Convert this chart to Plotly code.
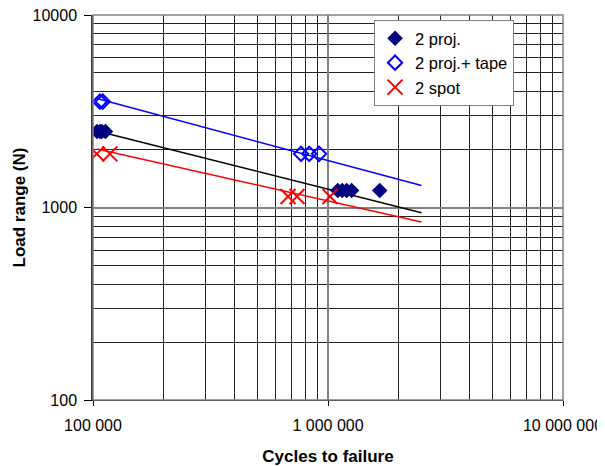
import plotly.graph_objects as go

# ---- data ----
proj_cycles = [104000, 107000, 109000, 113000, 1100000, 1150000, 1200000, 1260000, 1660000]
proj_load = [2480, 2480, 2480, 2480, 1225, 1225, 1225, 1225, 1225]

tape_cycles = [107000, 110000, 768000, 832000, 916000]
tape_load = [3550, 3550, 1900, 1900, 1900]

spot_cycles = [103700, 118000, 676000, 738000, 1020000]
spot_load = [1900, 1900, 1140, 1140, 1140]

# trend lines (power fits) endpoints
trend_x = [104000, 2500000]
trend_tape = [3680, 1300]
trend_proj = [2495, 940]
trend_spot = [2014, 840]

x_tickvals = [1e5, 1e6, 1e7]
x_ticktext = ["100 000", "1 000 000", "10 000 000"]
y_tickvals = [100, 1000, 10000]
y_ticktext = ["100", "1000", "10000"]

FONT = "Liberation Sans, Arial, sans-serif"

fig = go.Figure()

fig.add_trace(go.Scatter(x=trend_x, y=trend_tape, mode="lines",
                         line=dict(color="#0000FF", width=1.5), showlegend=False, hoverinfo="skip"))
fig.add_trace(go.Scatter(x=trend_x, y=trend_proj, mode="lines",
                         line=dict(color="#000000", width=1.5), showlegend=False, hoverinfo="skip"))
fig.add_trace(go.Scatter(x=trend_x, y=trend_spot, mode="lines",
                         line=dict(color="#FF0000", width=1.5), showlegend=False, hoverinfo="skip"))

fig.add_trace(go.Scatter(x=proj_cycles, y=proj_load, mode="markers", name="2 proj.",
                         marker=dict(symbol="diamond", size=12, color="#000080",
                                     line=dict(width=0))))
fig.add_trace(go.Scatter(x=tape_cycles, y=tape_load, mode="markers", name="2 proj.+ tape",
                         marker=dict(symbol="diamond-open", size=11, color="#0000FF",
                                     line=dict(width=2, color="#0000FF"))))
fig.add_trace(go.Scatter(x=spot_cycles, y=spot_load, mode="markers", name="2 spot",
                         marker=dict(symbol="x-thin-open", size=15, color="#FF0000",
                                     line=dict(width=2, color="#FF0000"))))

x_minor = [m * 10 ** e for e in (5, 6) for m in range(2, 10)]
y_minor = [m * 10 ** e for e in (2, 3) for m in range(2, 10)]

fig.update_xaxes(
    type="log", range=[5, 7], automargin=False,
    tickvals=x_tickvals, ticktext=x_ticktext,
    ticks="outside", ticklen=5, tickcolor="#000", tickwidth=1,
    ticklabelstandoff=6, ticklabeloverflow="allow",
    showgrid=True, gridcolor="#808080", gridwidth=1.5,
    minor=dict(tickvals=x_minor, showgrid=True, gridcolor="#222", gridwidth=1, ticks=""),
    showline=True, linecolor="#000", linewidth=1, mirror=False,
    tickfont=dict(family=FONT, size=16, color="#000"),
    title=dict(text="<b>Cycles to failure</b>", font=dict(family=FONT, size=17, color="#000"),
               standoff=18),
    zeroline=False,
)
fig.update_yaxes(
    type="log", range=[2, 4], automargin=False,
    tickvals=y_tickvals, ticktext=y_ticktext,
    ticks="outside", ticklen=7, tickcolor="#000", tickwidth=1,
    ticklabelstandoff=4, ticklabeloverflow="allow",
    showgrid=True, gridcolor="#808080", gridwidth=1.5,
    minor=dict(tickvals=y_minor, showgrid=True, gridcolor="#222", gridwidth=1, ticks=""),
    showline=True, linecolor="#333", linewidth=1.5, mirror=False,
    tickfont=dict(family=FONT, size=16, color="#000"),
    title=dict(text="<b>Load range (N)</b>", font=dict(family=FONT, size=17, color="#000"),
               standoff=3),
    zeroline=False,
)

# plot frame (top/right edges)
fig.add_shape(type="rect", xref="paper", yref="paper", x0=0, y0=0, x1=1, y1=1,
              line=dict(color="#808080", width=1.5), layer="above")

# the page body adds an 8px offset, so the figure is 8px smaller than the window
fig.update_layout(
    width=597, height=458,
    margin=dict(l=85, r=42, t=7, b=66),
    paper_bgcolor="white", plot_bgcolor="white",
    font=dict(family=FONT, size=16, color="#000"),
    legend=dict(x=0.598, y=0.987, xanchor="left", yanchor="top",
                bgcolor="white", bordercolor="#808080", borderwidth=1,
                font=dict(family=FONT, size=16.5, color="#000"),
                itemwidth=30, tracegroupgap=0),
    showlegend=True,
)

fig.write_html("out.html")
